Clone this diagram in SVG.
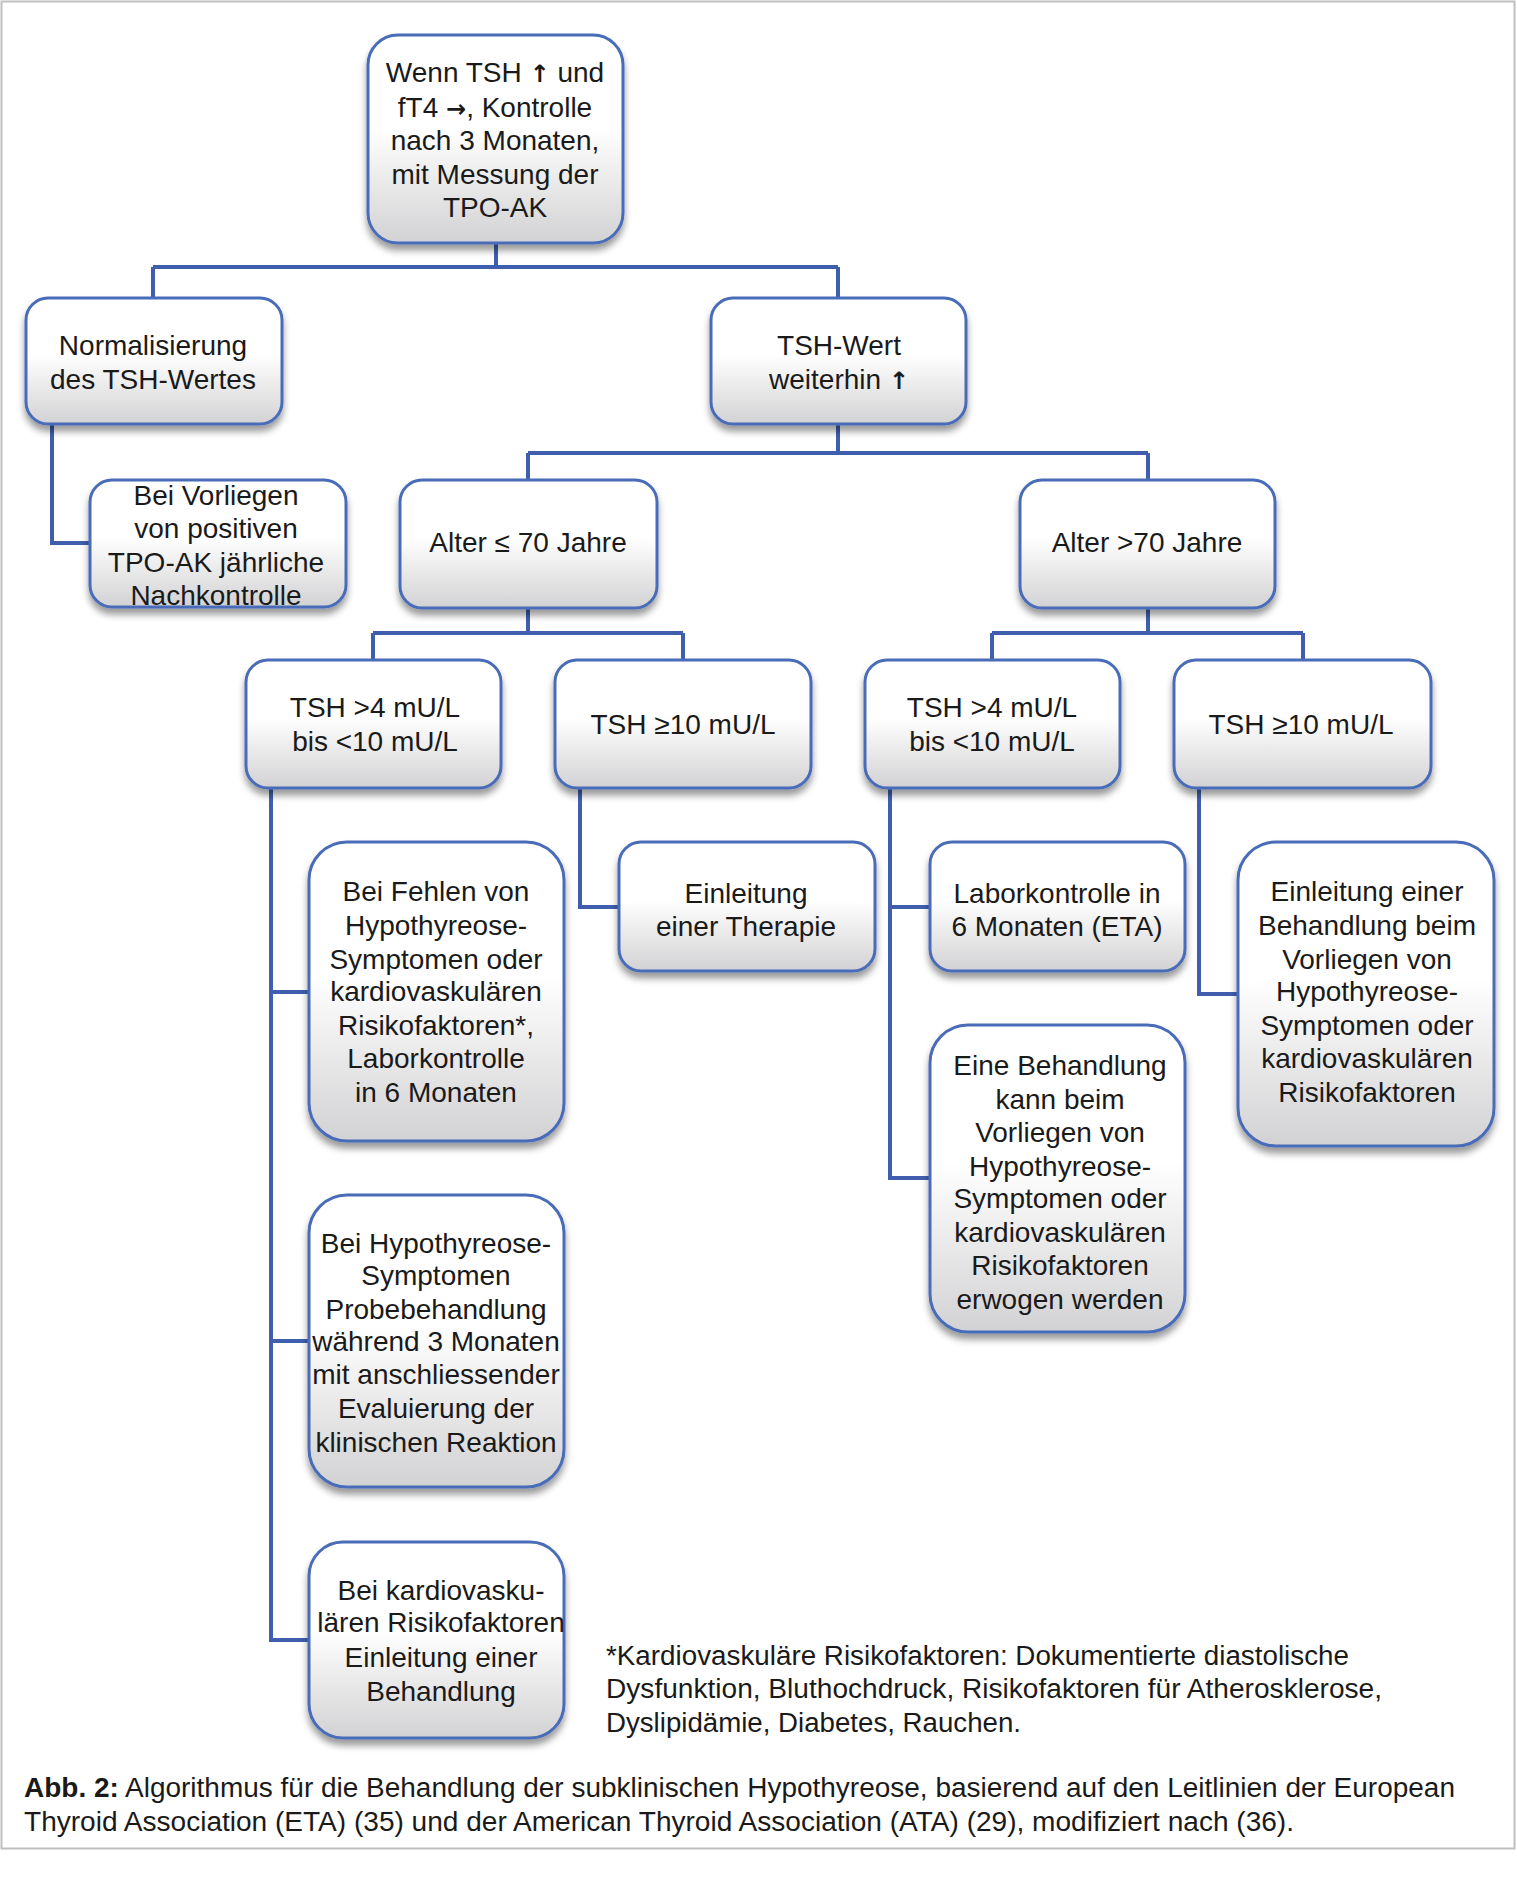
<svg xmlns="http://www.w3.org/2000/svg" width="1517" height="1879" viewBox="0 0 1517 1879">
<defs>
<linearGradient id="boxfill" x1="0" y1="0" x2="0" y2="1">
<stop offset="0" stop-color="#ffffff"/>
<stop offset="0.45" stop-color="#ffffff"/>
<stop offset="1" stop-color="#d2d2d4"/>
</linearGradient>
<filter id="shadow" x="-10%" y="-10%" width="120%" height="130%">
<feDropShadow dx="0" dy="6" stdDeviation="3.5" flood-color="#000000" flood-opacity="0.4"/>
</filter>
</defs>
<style>
.box{fill:url(#boxfill);stroke:#4a6cb8;stroke-width:3;filter:url(#shadow);}
.t{font-family:"Liberation Sans",Arial,sans-serif;font-size:28px;fill:#1a1a1a;text-anchor:middle;}
.b{font-weight:bold;}
.arr{font-family:"DejaVu Sans",sans-serif;font-weight:bold;font-size:24px;}
.conn{fill:none;stroke:#3f5fae;stroke-width:4;}
.note{font-family:"Liberation Sans",Arial,sans-serif;font-size:27px;fill:#1a1a1a;}
</style>
<rect x="0" y="0" width="1517" height="1879" fill="#ffffff"/>
<rect x="1.5" y="1.5" width="1513" height="1847" fill="none" stroke="#bfbfbf" stroke-width="2"/>

<g id="connectors">
<path class="conn" d="M496 244 V267 M153 267 H838 M153 267 V298 M838 267 V298"/>
<path class="conn" d="M52 425 V543 H90"/>
<path class="conn" d="M838 424 V453 M528 453 H1148 M528 453 V479 M1148 453 V479"/>
<path class="conn" d="M528 608 V633 M373 633 H683 M373 633 V660 M683 633 V660"/>
<path class="conn" d="M1148 608 V633 M992 633 H1303 M992 633 V660 M1303 633 V660"/>
<path class="conn" d="M271 788 V1640 H309 M271 992 H309 M271 1341 H309"/>
<path class="conn" d="M580 788 V907 H619"/>
<path class="conn" d="M890 788 V1178 H930 M890 907 H930"/>
<path class="conn" d="M1199 788 V994 H1238"/>
</g>

<g id="n-start">
<rect class="box" x="368" y="35" width="255" height="208" rx="30"/>
<text class="t" x="495" y="82">Wenn TSH <tspan class="arr">↑</tspan> und</text>
<text class="t" x="495" y="117">fT4 <tspan class="arr">→</tspan>, Kontrolle</text>
<text class="t" x="495" y="150">nach 3 Monaten,</text>
<text class="t" x="495" y="184">mit Messung der</text>
<text class="t" x="495" y="217">TPO-AK</text>
</g>

<g id="n-normal">
<rect class="box" x="26" y="298" width="256" height="126" rx="22"/>
<text class="t" x="153" y="355">Normalisierung</text>
<text class="t" x="153" y="389">des TSH-Wertes</text>
</g>

<g id="n-tpo">
<rect class="box" x="90" y="480" width="256" height="127" rx="22"/>
<text class="t" x="216" y="505">Bei Vorliegen</text>
<text class="t" x="216" y="538">von positiven</text>
<text class="t" x="216" y="572">TPO-AK jährliche</text>
<text class="t" x="216" y="605">Nachkontrolle</text>
</g>

<g id="n-tshwert">
<rect class="box" x="711" y="298" width="255" height="126" rx="22"/>
<text class="t" x="839" y="355">TSH-Wert</text>
<text class="t" x="839" y="389">weiterhin <tspan class="arr">↑</tspan></text>
</g>

<g id="n-alter1">
<rect class="box" x="400" y="480" width="257" height="128" rx="22"/>
<text class="t" x="528" y="552">Alter ≤ 70 Jahre</text>
</g>

<g id="n-alter2">
<rect class="box" x="1020" y="480" width="255" height="128" rx="22"/>
<text class="t" x="1147" y="552">Alter &gt;70 Jahre</text>
</g>

<g id="n-tsh4a">
<rect class="box" x="246" y="660" width="255" height="128" rx="22"/>
<text class="t" x="375" y="717">TSH &gt;4 mU/L</text>
<text class="t" x="375" y="751">bis &lt;10 mU/L</text>
</g>

<g id="n-tsh10a">
<rect class="box" x="555" y="660" width="256" height="128" rx="22"/>
<text class="t" x="683" y="734">TSH ≥10 mU/L</text>
</g>

<g id="n-tsh4b">
<rect class="box" x="865" y="660" width="255" height="128" rx="22"/>
<text class="t" x="992" y="717">TSH &gt;4 mU/L</text>
<text class="t" x="992" y="751">bis &lt;10 mU/L</text>
</g>

<g id="n-tsh10b">
<rect class="box" x="1174" y="660" width="257" height="128" rx="22"/>
<text class="t" x="1301" y="734">TSH ≥10 mU/L</text>
</g>

<g id="n-fehlen">
<rect class="box" x="309" y="842" width="255" height="299" rx="38"/>
<text class="t" x="436" y="901">Bei Fehlen von</text>
<text class="t" x="436" y="935">Hypothyreose-</text>
<text class="t" x="436" y="969">Symptomen oder</text>
<text class="t" x="436" y="1001">kardiovaskulären</text>
<text class="t" x="436" y="1035">Risikofaktoren*,</text>
<text class="t" x="436" y="1068">Laborkontrolle</text>
<text class="t" x="436" y="1102">in 6 Monaten</text>
</g>

<g id="n-therapie">
<rect class="box" x="619" y="842" width="256" height="129" rx="22"/>
<text class="t" x="746" y="903">Einleitung</text>
<text class="t" x="746" y="936">einer Therapie</text>
</g>

<g id="n-labor">
<rect class="box" x="930" y="842" width="255" height="129" rx="22"/>
<text class="t" x="1057" y="903">Laborkontrolle in</text>
<text class="t" x="1057" y="936">6 Monaten (ETA)</text>
</g>

<g id="n-einleitung-beim">
<rect class="box" x="1238" y="842" width="256" height="304" rx="38"/>
<text class="t" x="1367" y="901">Einleitung einer</text>
<text class="t" x="1367" y="935">Behandlung beim</text>
<text class="t" x="1367" y="969">Vorliegen von</text>
<text class="t" x="1367" y="1001">Hypothyreose-</text>
<text class="t" x="1367" y="1035">Symptomen oder</text>
<text class="t" x="1367" y="1068">kardiovaskulären</text>
<text class="t" x="1367" y="1102">Risikofaktoren</text>
</g>

<g id="n-erwogen">
<rect class="box" x="930" y="1025" width="255" height="307" rx="38"/>
<text class="t" x="1060" y="1075">Eine Behandlung</text>
<text class="t" x="1060" y="1109">kann beim</text>
<text class="t" x="1060" y="1142">Vorliegen von</text>
<text class="t" x="1060" y="1176">Hypothyreose-</text>
<text class="t" x="1060" y="1208">Symptomen oder</text>
<text class="t" x="1060" y="1242">kardiovaskulären</text>
<text class="t" x="1060" y="1275">Risikofaktoren</text>
<text class="t" x="1060" y="1309">erwogen werden</text>
</g>

<g id="n-probe">
<rect class="box" x="309" y="1195" width="255" height="292" rx="38"/>
<text class="t" x="436" y="1253">Bei Hypothyreose-</text>
<text class="t" x="436" y="1285">Symptomen</text>
<text class="t" x="436" y="1319">Probebehandlung</text>
<text class="t" x="436" y="1351">während 3 Monaten</text>
<text class="t" x="436" y="1384">mit anschliessender</text>
<text class="t" x="436" y="1418">Evaluierung der</text>
<text class="t" x="436" y="1452">klinischen Reaktion</text>
</g>

<g id="n-kardio">
<rect class="box" x="309" y="1542" width="255" height="196" rx="34"/>
<text class="t" x="441" y="1600">Bei kardiovasku-</text>
<text class="t" x="441" y="1632">lären Risikofaktoren</text>
<text class="t" x="441" y="1667">Einleitung einer</text>
<text class="t" x="441" y="1701">Behandlung</text>
</g>

<g id="footnote">
<text class="note" x="606" y="1665" textLength="743" lengthAdjust="spacingAndGlyphs">*Kardiovaskuläre Risikofaktoren: Dokumentierte diastolische</text>
<text class="note" x="606" y="1698" textLength="776" lengthAdjust="spacingAndGlyphs">Dysfunktion, Bluthochdruck, Risikofaktoren für Atherosklerose,</text>
<text class="note" x="606" y="1732" textLength="415" lengthAdjust="spacingAndGlyphs">Dyslipidämie, Diabetes, Rauchen.</text>
</g>

<g id="caption">
<text class="note" x="24" y="1797" textLength="1431" lengthAdjust="spacingAndGlyphs"><tspan class="b">Abb. 2:</tspan> Algorithmus für die Behandlung der subklinischen Hypothyreose, basierend auf den Leitlinien der European</text>
<text class="note" x="24" y="1831" textLength="1270" lengthAdjust="spacingAndGlyphs">Thyroid Association (ETA) (35) und der American Thyroid Association (ATA) (29), modifiziert nach (36).</text>
</g>
</svg>
